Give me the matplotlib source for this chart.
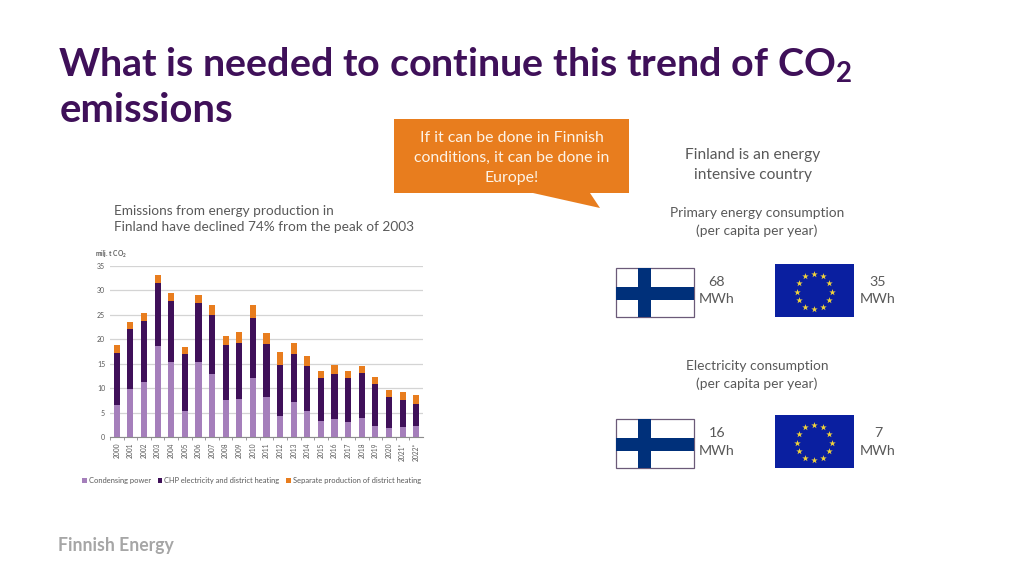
import numpy as np
import matplotlib
matplotlib.use("Agg")
import matplotlib.pyplot as plt
from matplotlib.patches import Polygon, Rectangle

plt.rcParams['font.family'] = ['Lato', 'DejaVu Sans']
plt.rcParams['mathtext.fontset'] = 'custom'
plt.rcParams['mathtext.bf'] = 'Lato:bold'
plt.rcParams['mathtext.rm'] = 'Lato'

years = ['2000', '2001', '2002', '2003', '2004', '2005', '2006', '2007', '2008', '2009', '2010', '2011',
         '2012', '2013', '2014', '2015', '2016', '2017', '2018', '2019', '2020', '2021*', '2022*']
condensing = [6.6, 9.85, 11.3, 18.7, 15.4, 5.3, 15.4, 12.85, 7.6, 7.8, 12.0, 8.2,
              4.35, 7.15, 5.4, 3.3, 3.75, 3.05, 3.9, 2.4, 1.9, 2.0, 2.4]
chp = [10.5, 12.15, 12.35, 12.8, 12.4, 11.6, 11.9, 12.1, 11.3, 11.5, 12.4, 10.8,
       10.4, 9.85, 9.2, 8.7, 9.25, 9.05, 9.15, 8.4, 6.25, 5.6, 4.4]
separate = [1.7, 1.6, 1.65, 1.7, 1.6, 1.5, 1.7, 1.95, 1.8, 2.2, 2.5, 2.2,
            2.75, 2.2, 1.9, 1.5, 1.8, 1.4, 1.55, 1.4, 1.45, 1.6, 1.8]
y_ticks = [0, 5, 10, 15, 20, 25, 30, 35]

PURPLE = '#3f1059'
LILAC = '#a57fbb'
ORANGE = '#e87d1e'
GREY = '#595959'
W, H = 1024, 576

fig = plt.figure(figsize=(W / 100, H / 100), dpi=100)

# overlay in pixel coordinates for the slide furniture
bg = fig.add_axes([0, 0, 1, 1])
bg.set_xlim(0, W)
bg.set_ylim(H, 0)
bg.axis('off')

bg.text(58.5, 64, r"What is needed to continue this trend of CO$\mathbf{_2}$", fontsize=28.4, fontweight='bold',
        color=PURPLE, va='center', ha='left')
bg.text(60, 110, "emissions", fontsize=28.8, fontweight='bold', color=PURPLE, va='center', ha='left')

# callout
bg.add_patch(Polygon([(394, 119), (629, 119), (629, 193), (590, 193), (600, 208), (533, 193), (394, 193)],
                     closed=True, fc=ORANGE, ec='none'))
for y, line in zip([138, 158, 178], ["If it can be done in Finnish", "conditions, it can be done in", "Europe!"]):
    bg.text(511.5, y, line, fontsize=11.4, color='#fdf3e6', ha='center', va='center')

bg.text(114, 211, "Emissions from energy production in", fontsize=9.8, color=GREY, va='center')
bg.text(114, 227, "Finland have declined 74% from the peak of 2003", fontsize=9.8, color=GREY, va='center')

for x, y, s, fs in [(753, 155, "Finland is an energy", 11.2), (753, 175, "intensive country", 11.2),
                    (757, 213, "Primary energy consumption", 9.95), (757, 231, "(per capita per year)", 9.95),
                    (757, 366, "Electricity consumption", 9.95), (757, 384, "(per capita per year)", 9.95),
                    (717, 282, "68", 10.3), (717, 299, "MWh", 10.3), (878, 282, "35", 10.3), (878, 299, "MWh", 10.3),
                    (717, 433, "16", 10.3), (717, 451, "MWh", 10.3), (878, 433, "7", 10.3), (878, 451, "MWh", 10.3)]:
    bg.text(x, y, s, fontsize=fs, color=GREY, ha='center', va='center')


def finnish_flag(x0, y0):
    bg.add_patch(Rectangle((x0, y0), 78, 49, fc='white', ec='#6b5a78', lw=0.9))
    bg.add_patch(Rectangle((x0 + 22, y0), 13, 49, fc='#00307a', ec='none', zorder=3))
    bg.add_patch(Rectangle((x0, y0 + 19), 78, 12.5, fc='#00307a', ec='none', zorder=3))


def eu_flag(x0, y0):
    bg.add_patch(Rectangle((x0, y0), 79, 53, fc='#0a1fa0', ec='none'))
    angles = np.deg2rad(np.arange(0, 360, 30))
    bg.scatter(x0 + 39 + 17.5 * np.cos(angles), y0 + 27.5 + 17.5 * np.sin(angles), marker='*', s=24,
               color='#f2d43a', linewidths=0, zorder=3)


finnish_flag(616, 268)
eu_flag(775, 264)
finnish_flag(616, 419)
eu_flag(775, 415)

bg.text(58, 545, "Finnish Energy", fontsize=12.7, fontweight='bold', color='#a6a6a6', va='center')

# chart
ax = fig.add_axes([110 / W, 1 - 437.3 / H, 313 / W, 171.6 / H])
x = np.arange(len(years))
cond = np.array(condensing)
mid = np.array(chp)
sep = np.array(separate)
ax.bar(x, cond, width=0.45, color=LILAC, label='Condensing power')
ax.bar(x, mid, width=0.45, bottom=cond, color=PURPLE, label='CHP electricity and district heating')
ax.bar(x, sep, width=0.45, bottom=cond + mid, color=ORANGE, label='Separate production of district heating')
ax.set_xlim(-0.5, len(years) - 0.5)
ax.set_ylim(0, 35)
ax.set_yticks(y_ticks)
ax.grid(axis='y', color='#d4d4d4', lw=0.9)
ax.set_axisbelow(True)
for side in ['top', 'right', 'left']:
    ax.spines[side].set_visible(False)
ax.spines['bottom'].set_color('#8c8c8c')
ax.spines['bottom'].set_linewidth(0.8)
ax.tick_params(axis='y', length=0, labelsize=5, labelcolor=GREY, pad=3.5)
ax.set_xticks(x - 0.5, minor=False)
ax.set_xticklabels([])
ax.tick_params(axis='x', length=2, width=0.6, color='#8c8c8c')
for xi, year in zip(x, years):
    ax.text(xi, -1.05, year, rotation=90, fontsize=4.8, color=GREY, ha='center', va='top')

bg.text(95, 254, r"milj. t CO$\mathbf{_2}$", fontsize=4.8, fontweight='bold', color=GREY, va='center')

handles, labels = ax.get_legend_handles_labels()
leg = bg.legend(handles, labels, ncol=3, loc='center left', bbox_to_anchor=(82 / W, 1 - 481 / H),
                bbox_transform=fig.transFigure, frameon=False, fontsize=5.4, labelcolor=GREY,
                handlelength=0.6, handleheight=0.6, handletextpad=0.3, columnspacing=0.9, borderpad=0, borderaxespad=0)

fig.savefig('out.png', dpi=100, facecolor='white')
